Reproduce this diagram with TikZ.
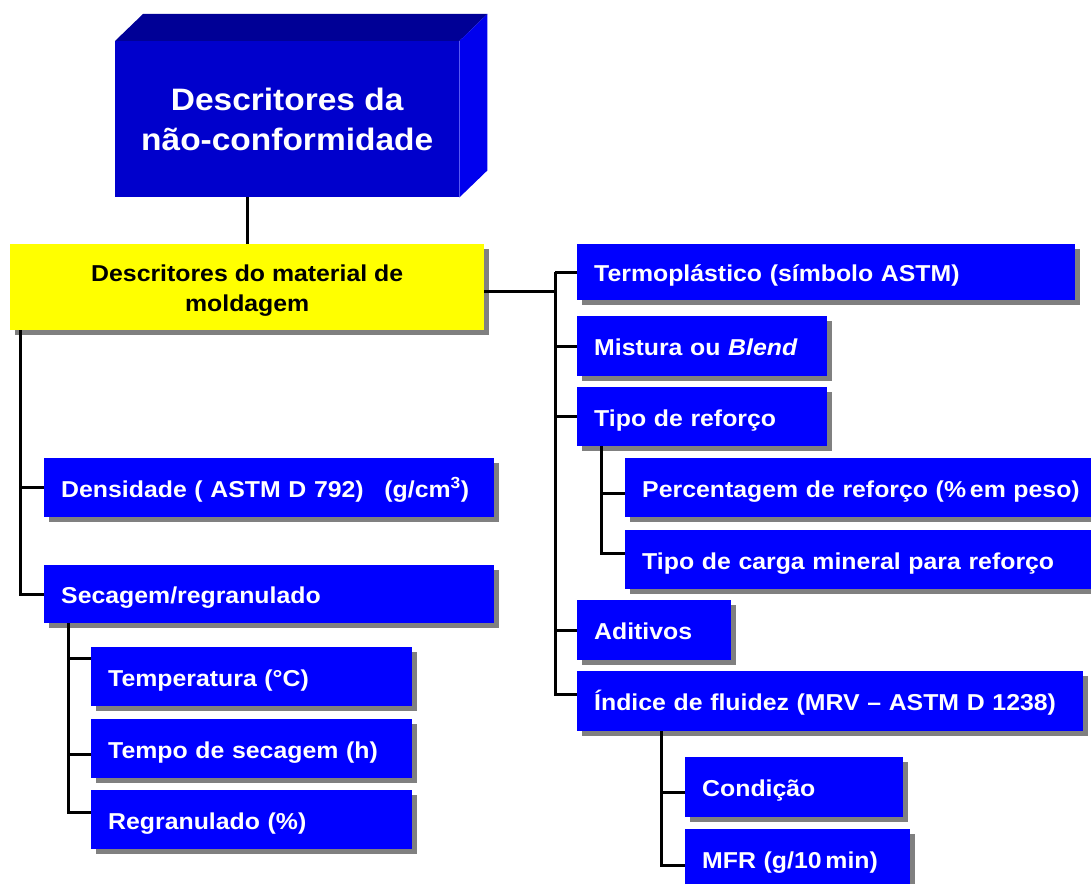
\documentclass[tikz,border=0pt]{standalone}
\usepackage{fontspec}
\setmainfont{Liberation Sans}[FakeStretch=1.08]
\usetikzlibrary{shadows,calc}
\definecolor{boxblue}{RGB}{0,0,255}
\definecolor{frontblue}{RGB}{0,0,204}
\definecolor{topblue}{RGB}{0,0,150}
\definecolor{sideblue}{RGB}{0,0,238}
\definecolor{shadowgray}{RGB}{128,128,128}
\definecolor{boxyellow}{RGB}{255,255,0}
\begin{document}
\begin{tikzpicture}[x=1pt,y=-1pt,
  shad/.style={drop shadow={shadow xshift=5pt,shadow yshift=-5pt,fill=shadowgray,opacity=1}},
  bx/.style={draw=none,fill=boxblue,text=white,font=\fontsize{23}{27}\selectfont\bfseries,
    anchor=north west,inner xsep=17pt,inner ysep=0pt,align=left,text height=19pt,text depth=0pt,shad},
  yel/.style={draw=none,fill=boxyellow,text=black,font=\fontsize{23}{30}\selectfont\bfseries,
    anchor=north west,inner sep=0pt,align=center,shad},
  conn/.style={line width=3pt,black}]
\useasboundingbox (0,0) rectangle (1091,883);

% 3D title box
\node[fill=frontblue,draw=none,anchor=north west,minimum width=344pt,minimum height=156pt,inner sep=0pt,
  text=white,font=\fontsize{31}{40}\selectfont\bfseries,align=center] (title) at (115,41)
  {Descritores da\\não-conformidade};
\fill[topblue] (title.north west) -- ++(28,-27) -- ($(title.north east)+(28,-27)$) -- (title.north east) -- cycle;
\fill[sideblue] (title.north east) -- ++(28,-27) -- ($(title.south east)+(28,-27)$) -- (title.south east) -- cycle;

% yellow
\node[yel,minimum width=474pt,minimum height=86pt] (mat) at (10,244)
  {\rule{0pt}{24pt}Descritores do material de\\moldagem};

% right column
\node[bx,text width=464pt,minimum height=56pt] (term) at (577,244) {Termoplástico (símbolo ASTM)};
\node[bx,text width=216pt,minimum height=60pt] (mis) at (577,316) {Mistura ou \textit{Blend}};
\node[bx,text width=216pt,minimum height=59pt] (tip) at (577,387) {Tipo de reforço};
\node[bx,text width=446pt,minimum height=59pt] (per) at (625,458) {Percentagem de reforço (\%\,em peso)};
\node[bx,text width=446pt,minimum height=59pt] (car) at (625,530) {Tipo de carga mineral para reforço};
\node[bx,text width=120pt,minimum height=60pt] (adi) at (577,600) {Aditivos};
\node[bx,text width=472pt,minimum height=60pt] (ind) at (577,671) {Índice de fluidez (MRV – ASTM D 1238)};
\node[bx,text width=184pt,minimum height=60pt] (con) at (685,757) {Condição};
\node[bx,text width=191pt,minimum height=60pt] (mfr) at (685,829) {MFR (g/10\,min)};

% left column
\node[bx,text width=416pt,minimum height=59pt] (den) at (44,458) {\mbox{Densidade ( ASTM D 792)\hspace{0.9em}(g/cm\textsuperscript{3})}};
\node[bx,text width=416pt,minimum height=58pt] (sec) at (44,565) {Secagem/regranulado};
\node[bx,text width=287pt,minimum height=59pt] (tem) at (91,647) {Temperatura (°C)};
\node[bx,text width=287pt,minimum height=59pt] (tsc) at (91,719) {Tempo de secagem (h)};
\node[bx,text width=287pt,minimum height=59pt] (reg) at (91,790) {Regranulado (\%)};

% trunk coordinates
\coordinate (tR) at (555,0);
\coordinate (tL) at (20,0);
\coordinate (tS) at (68,0);
\coordinate (tT) at (601,0);
\coordinate (tI) at (661,0);

% connectors
\draw[conn] (title.south -| mat.north) -- (mat.north);
\draw[conn] ([yshift=-4pt]mat.east) -- ([yshift=-4pt]mat.east -| tR);
\draw[conn] (term.west -| tR) |- ([yshift=7pt]ind.west);
\foreach \n in {term,mis,tip,adi}{\draw[conn] (\n.west -| tR) -- (\n.west);}
\draw[conn] (tip.south -| tT) |- ([yshift=6pt]car.west);
\draw[conn] ([yshift=-6pt]per.west -| tT) -- ([yshift=-6pt]per.west);
\draw[conn] (ind.south -| tI) |- ([yshift=-6pt]mfr.west);
\draw[conn] ([yshift=-5pt]con.west -| tI) -- ([yshift=-5pt]con.west);

\draw[conn] (mat.south -| tL) |- (sec.west);
\draw[conn] (den.west -| tL) -- (den.west);
\draw[conn] (sec.south -| tS) |- ([yshift=7pt]reg.west);
\draw[conn] ([yshift=18pt]tem.west -| tS) -- ([yshift=18pt]tem.west);
\draw[conn] ([yshift=-6pt]tsc.west -| tS) -- ([yshift=-6pt]tsc.west);
\end{tikzpicture}
\end{document}
